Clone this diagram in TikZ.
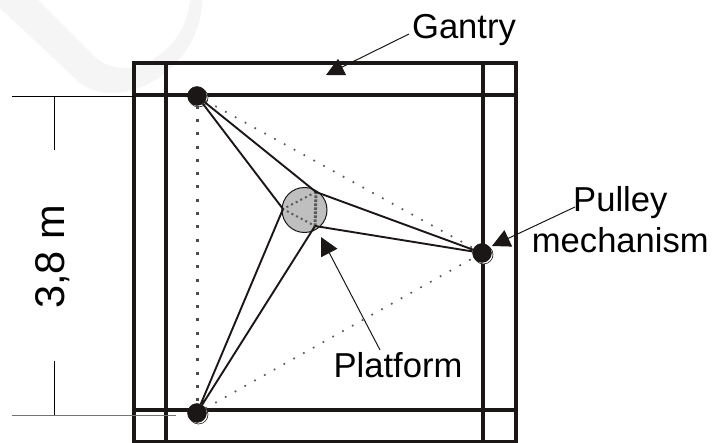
\documentclass[tikz,border=0pt]{standalone}
\usepackage{fontspec}
\setmainfont{Liberation Sans}
\usetikzlibrary{calc,positioning,arrows.meta}
\definecolor{beam}{rgb}{0.11,0.09,0.09}
\definecolor{swoosh}{gray}{0.96}
\tikzset{
  beamline/.style={draw=beam,line width=3.8pt},
  pulley/.style={circle,draw=beam,fill=beam,inner sep=0pt,minimum size=19pt},
  pulleyring/.style={circle,draw=beam,fill=white,line width=0.6pt,inner sep=0pt,minimum size=19pt},
  platform/.style={circle,draw=beam,fill=black!25,line width=1pt,inner sep=0pt,minimum size=45pt},
  cable/.style={draw=beam,line width=1.9pt},
  bigdot/.style={draw=black!70,line width=3pt,dash pattern=on 3pt off 10.3pt},
  smalldot/.style={draw=black!65,line width=1.7pt,dash pattern=on 1.7pt off 9.5pt},
  platdot/.style={draw=black!65,line width=2pt,dash pattern=on 2pt off 3.2pt},
  platdotb/.style={draw=black!65,line width=3pt,dash pattern=on 2.6pt off 1.4pt},
  label/.style={inner sep=0pt,font=\fontsize{34.6}{41}\selectfont,align=center},
  pointer/.style={draw=beam,line width=1pt,-{Triangle[length=18pt,width=18pt]}},
  dim/.style={draw=black,line width=0.7pt},
}
\begin{document}
\begin{tikzpicture}[x=1pt,y=-1pt]
  \useasboundingbox (0,0) rectangle (713,443);
  % watermark
  \fill[swoosh] (0,8) -- (80,83) .. controls (100,98) and (140,100) .. (177,62)
    .. controls (195,42) and (202,20) .. (202,0) -- (190,0)
    .. controls (188,25) and (175,45) .. (155,58) .. controls (135,72) and (110,72) .. (93,55)
    -- (38,0) -- (0,0) -- cycle;
  % gantry
  \draw[beamline] (134,442) -- (134,63) -- (516,63) -- (516,442) -- cycle;
  \draw[beamline] (134,95) -- (516,95);
  \draw[beamline] (134,410) -- (516,410);
  \draw[beamline] (166,63) -- (166,443);
  \draw[beamline] (483,63) -- (483,443);
  % dimension
  \coordinate (dimtopL) at (12,96);
  \coordinate (dimtopR) at (134,96);
  \coordinate (dimbotL) at (12,415);
  \coordinate (dimbotR) at (176,415);
  \coordinate (dimtop) at (54,96);
  \coordinate (dimtopE) at (54,150);
  \coordinate (dimbot) at (54,415);
  \coordinate (dimbotE) at (54,361);
  \node[label,font=\fontsize{41.5}{44}\selectfont,rotate=90] (dimtext) at (53,257) {3,8 m};
  \draw[dim] (dimtopL) -- (dimtopR);
  \draw[dim,draw=black!55] (dimbotL) -- (dimbotR);
  \draw[dim] (dimtop) -- (dimtopE);
  \draw[dim] (dimbotE) -- (dimbot);
  % platform and pulleys
  \node[platform] (plat) at (304.5,210) {};
  \coordinate (pA) at (316,192);
  \coordinate (pB) at (283,209);
  \coordinate (pC) at (315,226);
  \node[pulleyring] (ringTL) at (198.5,97.5) {};
  \node[pulleyring] (ringBL) at (198.5,414.5) {};
  \node[pulleyring] (ringR) at (483.5,254.5) {};
  \node[pulley] (pTL) at (197,96) {};
  \node[pulley] (pBL) at (197,413) {};
  \node[pulley] (pR) at (482,253) {};
  \draw[platdot] (pA) -- (pB) -- (pC);
  \draw[platdotb] (pC) -- (pA);
  \path[bigdot] (pTL) -- (pBL);
  \path[smalldot] (pTL) -- (pR);
  \path[smalldot] (pBL) -- (pR);
  \path[cable]
    (pTL) -- (pA)
    (pTL) -- (pB)
    (pBL) -- (pB)
    (pBL) -- (pC)
    (pR) -- (pA)
    (pR) -- (pC);
  % labels
  \node[label] (gantry) at (464,30) {Gantry};
  \node[label,anchor=north east] (pulleylbl) at (709,186) {Pulley\\mechanism};
  \node[label] (platlbl) at (398,365) {Platform};
  \coordinate (gantryFrom) at (409,34);
  \coordinate (gantryTip) at (326,75);
  \coordinate (pulleyFrom) at (575,207);
  \coordinate (pulleyTip) at (492,246);
  \coordinate (platFrom) at (380,350);
  \coordinate (platTip) at (321,237);
  \draw[pointer] (gantryFrom) -- (gantryTip);
  \draw[pointer] (pulleyFrom) -- (pulleyTip);
  \draw[pointer] (platFrom) -- (platTip);
\end{tikzpicture}
\end{document}
